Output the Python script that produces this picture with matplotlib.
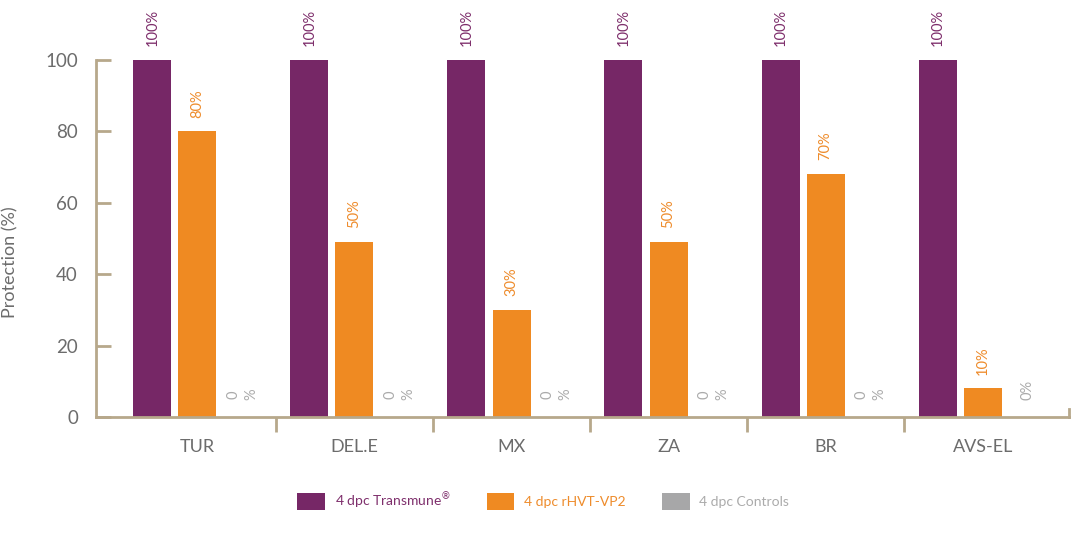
import matplotlib.pyplot as plt
from matplotlib.patches import Patch
from matplotlib.ticker import FixedLocator, NullFormatter

categories = ["TUR", "DEL.E", "MX", "ZA", "BR", "AVS-EL"]
series_names = ["4 dpc Transmune$^{\\circledR}$", "4 dpc rHVT-VP2", "4 dpc Controls"]
# bar heights as drawn in the picture
transmune = [100, 100, 100, 100, 100, 100]
rhvt = [80, 49, 30, 49, 68, 8]
controls = [0, 0, 0, 0, 0, 0]
# value labels as printed
transmune_lbl = ["100%"] * 6
rhvt_lbl = ["80%", "50%", "30%", "50%", "70%", "10%"]
controls_lbl = ["0\n%", "0\n%", "0\n%", "0\n%", "0\n%", "0%"]
yticks = [0, 20, 40, 60, 80, 100]

purple = "#762766"
orange = "#ef8a22"
grey = "#a7a7a8"
txt_purple = "#7e2f6c"
txt_orange = "#ee8c2c"
txt_grey = "#ababab"
axis_col = "#b7a88b"
lab_col = "#6c6c6c"

plt.rcParams["font.family"] = ["Lato", "DejaVu Sans"]

fig = plt.figure(figsize=(10.8, 5.35), dpi=100)
ax = fig.add_axes([96 / 1080, 118 / 535, 973 / 1080, 357 / 535])

x = list(range(len(categories)))
step = 0.287
width = 0.242
series = [(transmune, transmune_lbl, purple, txt_purple),
          (rhvt, rhvt_lbl, orange, txt_orange),
          (controls, controls_lbl, grey, txt_grey)]

for k, (vals, lbls, col, tcol) in enumerate(series):
    xs = [i + (k - 1) * step for i in x]
    ax.bar(xs, vals, width=width, color=col, linewidth=0)
    for xi, v, s in zip(xs, vals, lbls):
        ax.annotate(s, (xi, v), xytext=(0, 10 if v else 12), textcoords="offset points",
                    rotation=90, ha="center", va="bottom", fontsize=10.5,
                    color=tcol, linespacing=1.4, annotation_clip=False)

ax.set_xlim(-0.646, 5.55)
ax.set_ylim(0, 100)

ax.spines["top"].set_visible(False)
for s in ["left", "bottom", "right"]:
    ax.spines[s].set_color(axis_col)
    ax.spines[s].set_linewidth(2)
ax.spines["right"].set_bounds(0, 2.2)

ax.set_yticks(yticks)
ax.tick_params(axis="y", direction="in", length=11, width=2, color=axis_col,
               labelsize=13.5, labelcolor=lab_col, pad=13)

ax.set_xticks(x)
ax.set_xticklabels(categories)
ax.tick_params(axis="x", which="major", length=0, pad=16, labelsize=13, labelcolor=lab_col)
ax.xaxis.set_minor_locator(FixedLocator([i + 0.5 for i in x[:-1]]))
ax.xaxis.set_minor_formatter(NullFormatter())
ax.tick_params(axis="x", which="minor", direction="out", length=11, width=2, color=axis_col)
ax.tick_params(axis="y", which="both", right=False)

ax.set_ylabel("Protection (%)", fontsize=13, color=lab_col)
ax.yaxis.set_label_coords(-0.08, 0.434)

handles = [Patch(facecolor=c, edgecolor="none") for c in [purple, orange, grey]]
fig.legend(handles, series_names, loc="center", bbox_to_anchor=(0.503, 0.064),
           ncol=3, frameon=False, fontsize=10, handlelength=2.0, handleheight=1.6,
           handletextpad=0.7, columnspacing=2.6,
           labelcolor=[txt_purple, txt_orange, txt_grey])

fig.savefig("out.png", dpi=100)
